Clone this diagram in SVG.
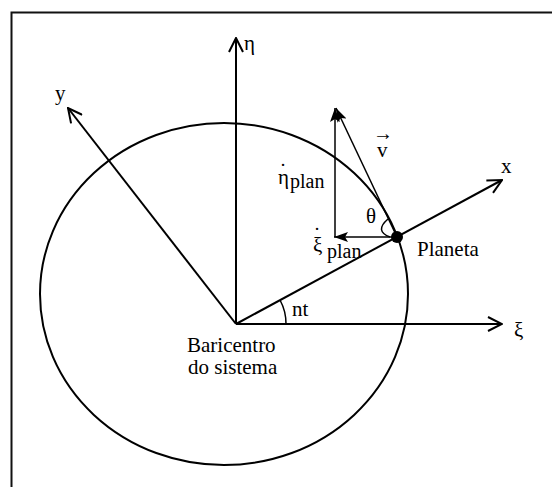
<svg xmlns="http://www.w3.org/2000/svg" width="552" height="487" viewBox="0 0 552 487">
<defs>
<style>
.ln{stroke:#000;stroke-width:2;fill:none}
.thin{stroke:#000;stroke-width:1.5;fill:none}
text{font-family:'Liberation Serif','Times New Roman',serif;fill:#000}
.t{font-size:21px}
.s{font-size:20px}
.a{font-size:20px}
</style>
<marker id="open" viewBox="0 0 16 16" refX="15" refY="8" markerWidth="16" markerHeight="16" markerUnits="userSpaceOnUse" orient="auto">
<path d="M1,1 L15,8 L1,15" fill="none" stroke="#000" stroke-width="2"/>
</marker>
<marker id="fill" viewBox="0 0 14 10" refX="14" refY="5" markerWidth="14" markerHeight="10" markerUnits="userSpaceOnUse" orient="auto">
<path d="M0,0 L14,5 L0,10 L3,5 Z" fill="#000"/>
</marker>
</defs>
<rect width="552" height="487" fill="#fff"/>
<path d="M11.5,487 L11.5,12.5 L552,12.5" fill="none" stroke="#111" stroke-width="2"/>
<g id="circle"><ellipse cx="224" cy="294" rx="184" ry="171" class="ln"/></g>
<g id="connectors">
<line id="eta-axis" x1="236" y1="324" x2="236" y2="38" class="ln" marker-end="url(#open)"/>
<line id="xi-axis" x1="236" y1="324" x2="502" y2="324" class="ln" marker-end="url(#open)"/>
<line id="x-axis" x1="236" y1="324" x2="502" y2="180" class="ln" marker-end="url(#open)"/>
<line id="y-axis" x1="236" y1="324" x2="68" y2="108" class="ln" marker-end="url(#open)"/>
<line id="xi-plan" x1="397" y1="237" x2="334" y2="237" class="thin" marker-end="url(#fill)"/>
<line id="eta-plan" x1="335" y1="237" x2="335" y2="108" class="thin" marker-end="url(#fill)"/>
<line id="v" x1="397" y1="237" x2="336" y2="108" class="thin" marker-end="url(#fill)"/>
<path id="theta-arc" d="M388,219 Q374,231 390,237" class="thin"/>
<path id="nt-arc" d="M286,324 A50 50 0 0 0 280,300" class="thin"/>
</g>
<g id="planeta"><circle cx="397" cy="237" r="6" fill="#000"/><text class="t" x="417" y="256">Planeta</text></g>
<g id="baricentro"><text class="t" x="187" y="352">Baricentro</text><text class="t" x="188" y="374">do sistema</text></g>
<g id="labels">
<text class="t" x="244" y="50">η</text>
<text class="t" x="514" y="337">ξ</text>
<text class="t" x="501" y="173">x</text>
<text class="t" x="55" y="100">y</text>
<text class="t" x="292" y="316">nt</text>
<text class="t" x="366" y="223">θ</text>
<text class="a" x="373" y="140">→<tspan class="t" x="377" y="157">v</tspan></text>
<text class="t" x="278" y="184">η<tspan x="279.5" y="178">˙</tspan><tspan class="s" x="290" y="188">plan</tspan></text>
<text class="t" x="313" y="252">ξ<tspan x="313.5" y="242">˙</tspan><tspan class="s" x="327" y="258">plan</tspan></text>
</g>
</svg>
